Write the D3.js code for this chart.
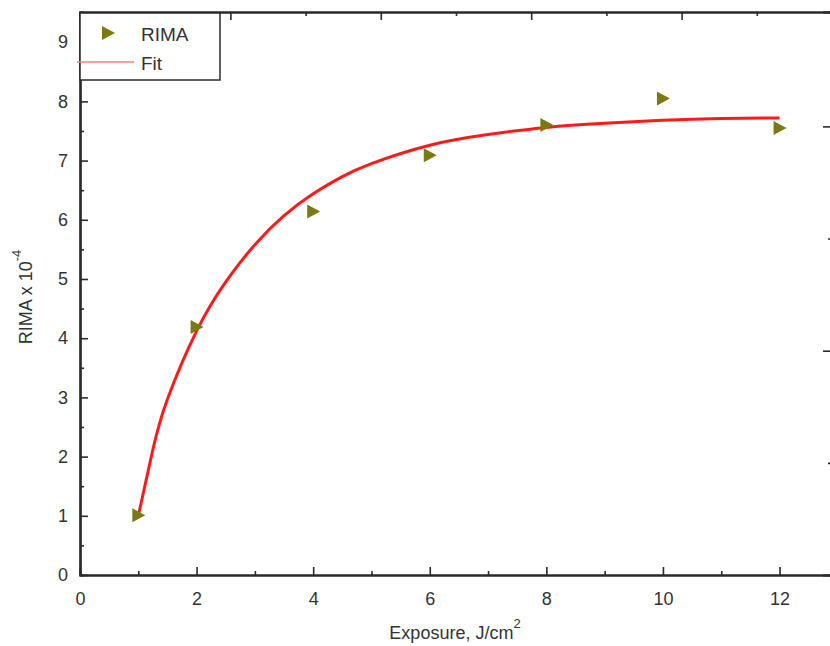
<!DOCTYPE html>
<meta charset="utf-8">
<script src="https://d3js.org/d3.v7.min.js"></script>
<style>
  body { margin: 0; background: #fff; }
  text { font-family: "Liberation Sans", Arial, sans-serif; fill: #333; }
</style>
<svg id="chart" width="830" height="646"></svg>
<script>

// measured points
var exposure = [1, 2, 4, 6, 8, 10, 12];
var rima = [1.01, 4.19, 6.14, 7.09, 7.60, 8.05, 7.55];

// fit curve
var fitX = [1, 1.25, 1.5, 2, 2.5, 3, 3.5, 4, 4.5, 5, 6, 7, 8, 9, 10, 11, 12];
var fitY = [1.0, 2.12, 2.97, 4.12, 4.95, 5.58, 6.07, 6.44, 6.73, 6.95, 7.26, 7.44, 7.56, 7.63, 7.68, 7.71, 7.72];

var xTicks = [0, 2, 4, 6, 8, 10, 12];
var yTicks = [0, 1, 2, 3, 4, 5, 6, 7, 8, 9];

var svg = d3.select("#chart");
var mLeft = 80, mTop = 12, mRight = 832, mBottom = 575;

var x = d3.scaleLinear().domain([0, 12.9]).range([mLeft, mRight]);
var y = d3.scaleLinear().domain([0, 9.51]).range([mBottom, mTop]);
// top / right frame carry their own tick spacing
var xTop = d3.scaleLinear().domain([0, 5]).range([mLeft, mRight]);
var yRight = d3.scaleLinear().domain([0, 2.51]).range([mBottom, mTop]);

function styleAxis(g) {
  g.select(".domain").attr("stroke", "#2a2a2a").attr("stroke-width", 2.2);
  g.selectAll(".tick line").attr("stroke", "#2a2a2a").attr("stroke-width", 1.6);
  g.selectAll(".tick text").attr("font-size", 18).attr("fill", "#333")
    .style("font-family", "Liberation Sans, Arial, sans-serif");
}

// bottom axis
svg.append("g").attr("transform", "translate(0," + mBottom + ")")
  .call(d3.axisBottom(x).tickValues(d3.range(1, 13, 2)).tickSize(-4).tickFormat(""))
  .call(styleAxis);
svg.append("g").attr("transform", "translate(0," + mBottom + ")")
  .call(d3.axisBottom(x).tickValues(xTicks).tickSizeInner(-8).tickSizeOuter(0).tickPadding(17))
  .call(styleAxis);

// left axis
svg.append("g").attr("transform", "translate(" + mLeft + ",0)")
  .call(d3.axisLeft(y).tickValues(d3.range(0.5, 9.5, 1)).tickSize(-4).tickFormat(""))
  .call(styleAxis);
svg.append("g").attr("transform", "translate(" + mLeft + ",0)")
  .call(d3.axisLeft(y).tickValues(yTicks).tickSizeInner(-8).tickSizeOuter(0).tickPadding(12))
  .call(styleAxis);

// top frame
svg.append("g").attr("transform", "translate(0," + mTop + ")")
  .call(d3.axisTop(xTop).tickValues(d3.range(0.5, 5, 1)).tickSize(-4).tickFormat(""))
  .call(styleAxis);
svg.append("g").attr("transform", "translate(0," + mTop + ")")
  .call(d3.axisTop(xTop).tickValues([1, 2, 3, 4]).tickSize(-8).tickFormat(""))
  .call(styleAxis);

// right frame
svg.append("g").attr("transform", "translate(" + mRight + ",0)")
  .call(d3.axisRight(yRight).tickValues([0.5, 1.5]).tickSize(-4).tickFormat(""))
  .call(styleAxis);
svg.append("g").attr("transform", "translate(" + mRight + ",0)")
  .call(d3.axisRight(yRight).tickValues([1, 2]).tickSize(-9).tickFormat(""))
  .call(styleAxis);

// fit line
var fitData = fitX.map(function(d, i) { return [d, fitY[i]]; });
svg.append("path")
  .datum(fitData)
  .attr("fill", "none")
  .attr("stroke", "#ff1a1a")
  .attr("stroke-width", 3)
  .attr("d", d3.line()
    .x(function(d) { return x(d[0]); })
    .y(function(d) { return y(d[1]); })
    .curve(d3.curveNatural));

// triangle markers
var tri = "M-6,-7L7,0L-6,7Z";
svg.append("g").selectAll("path")
  .data(exposure)
  .enter()
  .append("path")
    .attr("d", tri)
    .attr("fill", "#7a7a12")
    .attr("transform", function(d, i) { return "translate(" + x(d) + "," + y(rima[i]) + ")"; });

// legend
var lg = svg.append("g");
lg.append("rect")
  .attr("x", mLeft).attr("y", 13).attr("width", 140).attr("height", 67)
  .attr("fill", "#fff").attr("stroke", "#2a2a2a").attr("stroke-width", 1.5);
lg.append("path").attr("d", tri).attr("fill", "#7a7a12")
  .attr("transform", "translate(108,33)");
lg.append("text").attr("x", 141).attr("y", 41).attr("font-size", 19).text("RIMA");
lg.append("line").attr("x1", 77).attr("x2", 134).attr("y1", 62).attr("y2", 62)
  .attr("stroke", "#f08080").attr("stroke-width", 1.5);
lg.append("text").attr("x", 141).attr("y", 70).attr("font-size", 19).text("Fit");

// axis titles
var xt = svg.append("text")
  .attr("x", 455).attr("y", 639).attr("text-anchor", "middle").attr("font-size", 18);
xt.append("tspan").text("Exposure, J/cm");
xt.append("tspan").attr("dy", -11).attr("font-size", 13).text("2");

var yt = svg.append("text")
  .attr("transform", "translate(32,297) rotate(-90)")
  .attr("text-anchor", "middle").attr("font-size", 18);
yt.append("tspan").text("RIMA x 10");
yt.append("tspan").attr("dy", -11).attr("font-size", 13).text("-4");

</script>
